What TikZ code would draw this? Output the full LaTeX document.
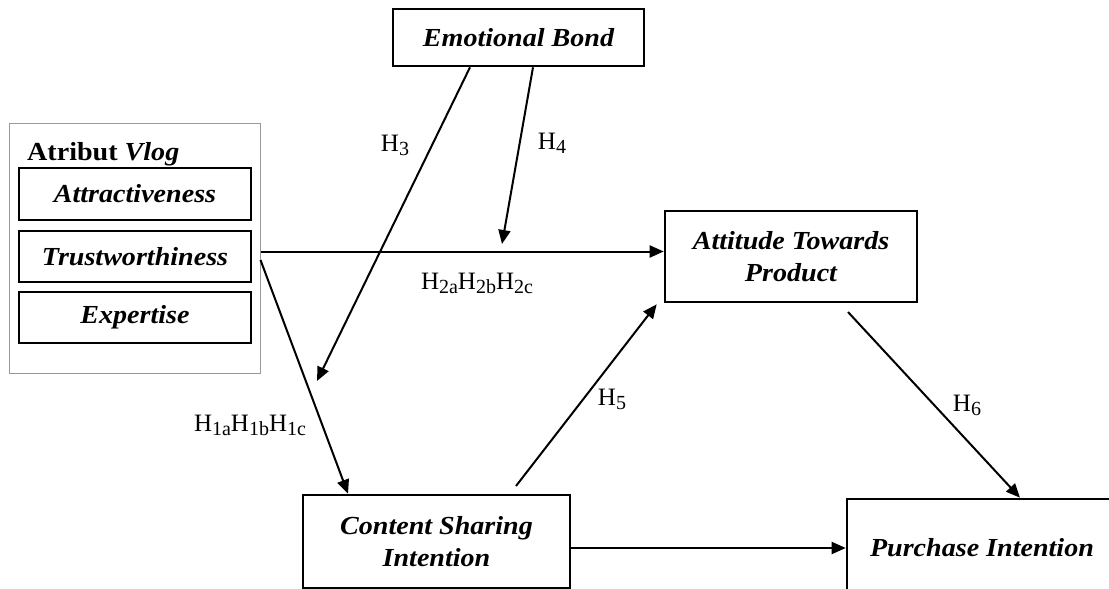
\documentclass[tikz,border=0pt]{standalone}
\usepackage{fontspec}
\setmainfont{Liberation Serif}
\newfontfamily\boxfont[FakeStretch=1.08]{Liberation Serif}
\usetikzlibrary{arrows.meta}
\newcommand\Hs[1]{H\raisebox{-4pt}{\fontsize{20}{20}\selectfont #1}}
\begin{document}
\begin{tikzpicture}[x=1pt,y=-1pt,
  box/.style={draw, line width=2.6pt, inner sep=0pt, align=center,
    font=\boxfont\bfseries\itshape\fontsize{26}{32}\selectfont},
  hl/.style={inner sep=0pt, font=\fontsize{25}{25}\selectfont},
  arr/.style={line width=2pt, -{Triangle[length=14pt,width=12pt]}}]
\useasboundingbox (0,0) rectangle (1109,589);
\clip (0,0) rectangle (1109,589);

\node[box, minimum width=251pt, minimum height=57pt] (eb) at (518.5,37.5) {Emotional Bond};
\node[draw=gray!80, line width=1pt, minimum width=251pt, minimum height=250pt, inner sep=0pt] (outer) at (134.5,248) {};
\node[inner sep=0pt, anchor=base west, font=\boxfont\bfseries\fontsize{26}{32}\selectfont] (title) at (27,160) {Atribut \textit{Vlog}};
\node[box, minimum width=232pt, minimum height=52pt] (attr) at (135,194) {Attractiveness};
\node[box, minimum width=232pt, minimum height=51pt] (trust) at (135,256.5) {Trustworthiness};
\node[box, minimum width=232pt, minimum height=51pt] (exp) at (135,317.5) {Expertise};
\node[box, minimum width=252pt, minimum height=91pt] (atp) at (791,256.5) {Attitude Towards\\Product};
\node[box, minimum width=267pt, minimum height=93pt] (csi) at (436.5,541.5) {Content Sharing\\Intention};
\node[box, minimum width=270pt, minimum height=98pt] (pi) at (982,548) {Purchase Intention};

\coordinate (h4e) at (502,244);
\coordinate (h3e) at (317,381);
\coordinate (h5s) at (516,486);
\coordinate (h6s) at (848,312);

\draw[arr] ([yshift=5pt]atp.west -| outer.east) -- ([yshift=5pt]atp.west);
\draw[arr] ([xshift=14.5pt]eb.south) -- (h4e);
\draw[arr] ([xshift=-48.5pt]eb.south) -- (h3e);
\draw[arr] ([yshift=-12pt]outer.east) -- ([xshift=-88.5pt]csi.north);
\draw[arr] (h5s) -- ([xshift=-7pt,yshift=-1pt]atp.south west);
\draw[arr] (h6s) -- ([xshift=38pt]pi.north);
\draw[arr] (csi.east |- pi.west) -- (pi.west);

\node[hl] (l3) at (395,145) {\Hs{3}};
\node[hl] (l4) at (552,143) {\Hs{4}};
\node[hl] (l2) at (477,283) {\Hs{2a}\Hs{2b}\Hs{2c}};
\node[hl] (l1) at (250,425) {\Hs{1a}\Hs{1b}\Hs{1c}};
\node[hl] (l5) at (612,399) {\Hs{5}};
\node[hl] (l6) at (967,405) {\Hs{6}};
\end{tikzpicture}
\end{document}
